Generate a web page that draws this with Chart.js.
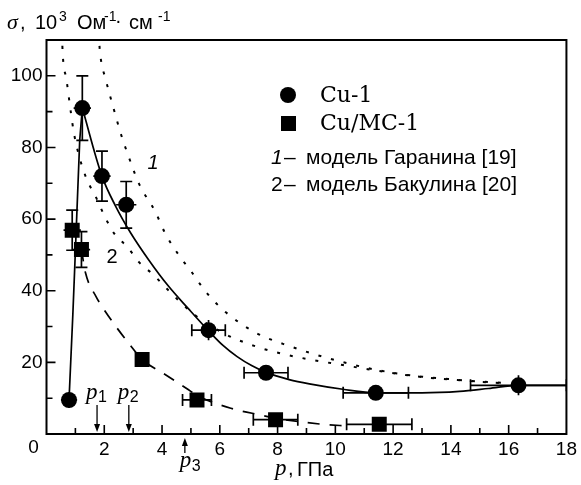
<!DOCTYPE html>
<html>
<head>
<meta charset="utf-8">
<script src="https://cdn.jsdelivr.net/npm/chart.js@4"></script>
<style>
  html, body { margin: 0; padding: 0; background: #fff; }
  canvas { display: block; }
</style>
</head>
<body>
<canvas id="sigmaChart" width="581" height="485"></canvas>
<script>
// measured points, Cu-1 (circles)
const cuX = [0.78, 1.24, 1.92, 2.76, 5.61, 7.6, 11.4, 16.34];
const cuY = [9.5, 91, 72, 64, 29, 17.1, 11.5, 13.6];
const cuXErr = [0.28, 0.3, 0.3, 0.35, 0.58, 0.76, 1.13, 1.66];
const cuYErr = [2.2, 9, 7, 6.5, 2.8, 1.5, 1.5, 2.8];

// measured points, Cu/MC-1 (squares)
const mcX = [0.89, 1.21, 3.31, 5.21, 7.93, 11.52];
const mcY = [56.9, 51.5, 20.8, 9.5, 4.0, 2.7];
const mcXErr = [0.3, 0.3, 0, 0.5, 0.77, 1.13];
const mcYErr = [5.6, 5, 0, 1.5, 1.5, 1.5];

// guide curves
const cuRise = [[0.78, 9.5], [0.91, 33], [0.97, 45], [1.15, 82], [1.24, 91]];
const cuFall = [[1.24, 91], [1.92, 72], [2.4, 63.5], [2.91, 56.2], [3.54, 48.6], [4.22, 41.3],
  [4.91, 35], [5.61, 28.8], [6.1, 24.8], [6.6, 21.6], [7.1, 19.1], [7.6, 17.2],
  [8.4, 15.2], [9.1, 14], [10.26, 12.5], [11.4, 11.5], [13, 11.5], [14.3, 11.9],
  [15.3, 12.7], [16.34, 13.6], [18, 13.6]];
const mcFit = [[1.21, 51.5], [1.35, 45], [1.72, 38.3], [1.93, 35.5], [2.44, 29.6],
  [2.85, 25.3], [3.31, 20.8], [4.05, 16.9], [4.85, 12.7], [5.25, 10.6], [6.38, 7.2],
  [7.4, 5.3], [7.93, 4.4], [9.45, 2.8], [10.5, 2.2]];
const model1 = [[1.8, 112], [1.86, 106], [2.06, 98.7], [2.34, 90.4], [2.57, 83.9],
  [2.85, 77.3], [3.2, 69.9], [3.77, 62], [4.11, 56], [4.62, 49.5], [5.02, 45.3],
  [5.31, 41.9], [5.73, 37.7], [6.22, 33.9], [6.71, 30.9], [7.19, 28.5], [7.7, 26.6],
  [8.21, 25.1], [9.18, 22.5], [10.15, 20.3], [11.12, 18.4], [12.14, 16.9], [13, 16],
  [14.14, 15.2], [15.1, 14.6], [16, 14.2]];
const model2 = [[0.53, 112], [0.57, 105], [0.69, 99], [0.84, 90], [0.95, 84], [1.15, 77],
  [1.4, 71], [1.72, 66], [2.0, 61], [2.34, 56], [2.8, 52.2], [3.2, 48], [3.71, 44.4],
  [4.16, 40.6], [5.14, 33.2], [6.16, 28], [7.19, 24.6], [8.15, 22.4], [9.12, 20.8],
  [10.15, 19.4], [11.12, 18.1], [12.14, 16.8], [13, 15.9], [14.14, 15.1], [15.1, 14.5],
  [16, 14.1]];

// axis ticks
const xTickLabels = [2, 4, 6, 8, 10, 12, 14, 16, 18];
const yTickLabels = [20, 40, 60, 80, 100];

// pressure marks p1, p2, p3
const pMarks = [1.75, 2.85, 4.79];
const pNames = ['1', '2', '3'];

const SANS = '"Liberation Sans", Arial, sans-serif';
const SERIF = '"Liberation Serif", "Times New Roman", serif';

function toXY(xs, ys) {
  return xs.map((x, i) => ({ x: x, y: ys[i] }));
}
function pairs(arr) {
  return arr.map(p => ({ x: p[0], y: p[1] }));
}

function txt(ctx, s, x, y, font, align, base) {
  ctx.font = font;
  ctx.textAlign = align || 'left';
  ctx.textBaseline = base || 'alphabetic';
  ctx.fillText(s, x, y);
}

function arrow(ctx, x, y1, y2) {
  // line from y1 to tip at y2
  const dir = y2 > y1 ? 1 : -1;
  ctx.beginPath();
  ctx.moveTo(x, y1);
  ctx.lineTo(x, y2 - dir * 6);
  ctx.stroke();
  ctx.beginPath();
  ctx.moveTo(x, y2);
  ctx.lineTo(x - 3, y2 - dir * 8);
  ctx.lineTo(x + 3, y2 - dir * 8);
  ctx.closePath();
  ctx.fill();
}

const errorBars = {
  id: 'errorBars',
  afterDatasetsDraw(chart) {
    const ctx = chart.ctx;
    const xs = chart.scales.x, ys = chart.scales.y;
    const a = chart.chartArea;
    ctx.save();
    ctx.beginPath();
    ctx.rect(a.left, a.top, a.right - a.left, a.bottom - a.top);
    ctx.clip();
    ctx.strokeStyle = '#000';
    ctx.lineWidth = 1.7;
    const sets = [[cuX, cuY, cuXErr, cuYErr], [mcX, mcY, mcXErr, mcYErr]];
    sets.forEach(s => {
      s[0].forEach((xv, i) => {
        const px = xs.getPixelForValue(xv);
        const py = ys.getPixelForValue(s[1][i]);
        if (s[2][i] > 0) {
          const l = xs.getPixelForValue(xv - s[2][i]);
          const r = xs.getPixelForValue(xv + s[2][i]);
          ctx.beginPath();
          ctx.moveTo(l, py); ctx.lineTo(r, py);
          if (r - px > 12) {
            ctx.moveTo(l, py - 6); ctx.lineTo(l, py + 6);
            ctx.moveTo(r, py - 6); ctx.lineTo(r, py + 6);
          }
          ctx.stroke();
        }
        if (s[3][i] > 0) {
          const t = ys.getPixelForValue(s[1][i] + s[3][i]);
          const b = ys.getPixelForValue(s[1][i] - s[3][i]);
          ctx.beginPath();
          ctx.moveTo(px, t); ctx.lineTo(px, b);
          if (py - t > 12) {
            ctx.moveTo(px - 6, t); ctx.lineTo(px + 6, t);
            ctx.moveTo(px - 6, b); ctx.lineTo(px + 6, b);
          }
          ctx.stroke();
        }
      });
    });
    ctx.restore();
  }
};

const decorations = {
  id: 'decorations',
  afterDraw(chart) {
    const ctx = chart.ctx;
    const a = chart.chartArea;
    const xs = chart.scales.x, ys = chart.scales.y;
    ctx.save();
    ctx.strokeStyle = '#000';
    ctx.fillStyle = '#000';

    // frame
    ctx.lineWidth = 2;
    ctx.strokeRect(a.left, a.top, a.right - a.left, a.bottom - a.top);

    // inward ticks
    ctx.lineWidth = 1.6;
    ctx.beginPath();
    for (let v = 1; v < 18; v++) {
      const x = xs.getPixelForValue(v);
      const len = v % 2 === 0 ? 9 : 6;
      ctx.moveTo(x, a.bottom); ctx.lineTo(x, a.bottom - len);
    }
    for (let v = 10; v < 110; v += 10) {
      const y = ys.getPixelForValue(v);
      const len = v % 20 === 0 ? 9 : 6;
      ctx.moveTo(a.left, y); ctx.lineTo(a.left + len, y);
    }
    ctx.stroke();

    // origin label
    txt(ctx, '0', a.left - 13, 448, '19px ' + SANS, 'center', 'middle');

    // y title: sigma, 10^3 Om^-1 cm^-1
    txt(ctx, 'σ', 7, 29, 'italic 22px ' + SERIF);
    txt(ctx, ',', 20, 29, '20px ' + SANS);
    txt(ctx, '10', 35, 29, '20px ' + SANS);
    txt(ctx, '3', 59, 21, '14px ' + SANS);
    txt(ctx, 'Ом', 77, 29, '20px ' + SANS);
    txt(ctx, '-1', 104, 21, '14px ' + SANS);
    txt(ctx, '·', 115, 27, '20px ' + SANS);
    txt(ctx, 'см', 129, 29, '20px ' + SANS);
    txt(ctx, '-1', 158, 21, '14px ' + SANS);

    // x title: p, GPa
    txt(ctx, 'p', 275, 475, 'italic 23px ' + SERIF);
    txt(ctx, ',', 288, 475, '20px ' + SANS);
    txt(ctx, 'ГПа', 297, 476, '20px ' + SANS);

    // legend
    ctx.beginPath();
    ctx.arc(288, 95, 8, 0, Math.PI * 2);
    ctx.fill();
    ctx.fillRect(281, 116, 15, 15);
    txt(ctx, 'Cu-1', 320, 96, '22px "DejaVu Serif", serif', 'left', 'middle');
    txt(ctx, 'Cu/MC-1', 320, 124, '22px "DejaVu Serif", serif', 'left', 'middle');
    txt(ctx, '1', 271, 164, 'italic 21px ' + SANS);
    txt(ctx, '–', 284, 164, '21px ' + SANS);
    txt(ctx, 'модель Гаранина [19]', 306, 164, '21px ' + SANS);
    txt(ctx, '2', 271, 191, '21px ' + SANS);
    txt(ctx, '–', 284, 191, '21px ' + SANS);
    txt(ctx, 'модель Бакулина [20]', 306, 191, '21px ' + SANS);

    // curve numbers
    txt(ctx, '1', 153, 163, 'italic 20px ' + SANS, 'center', 'middle');
    txt(ctx, '2', 112, 257, '20px ' + SANS, 'center', 'middle');

    // pressure marks
    ctx.lineWidth = 1.3;
    pMarks.forEach((v, i) => {
      const x = xs.getPixelForValue(v);
      if (i < 2) {
        arrow(ctx, x, 405, 432);
        txt(ctx, 'p', x - 11, 399, 'italic 23px ' + SERIF);
        txt(ctx, pNames[i], x + 1, 402, '16px ' + SANS);
      } else {
        arrow(ctx, x, 453, 438);
        txt(ctx, 'p', x - 5, 467, 'italic 23px ' + SERIF);
        txt(ctx, pNames[i], x + 7, 471, '16px ' + SANS);
      }
    });
    ctx.restore();
  }
};

const lineStyle = {
  showLine: true,
  pointRadius: 0,
  borderColor: '#000',
  backgroundColor: '#000',
  fill: false
};

new Chart(document.getElementById('sigmaChart').getContext('2d'), {
  type: 'scatter',
  data: {
    datasets: [
      {
        label: 'Cu-1',
        data: toXY(cuX, cuY),
        pointStyle: 'circle',
        pointRadius: 8,
        backgroundColor: '#000',
        borderWidth: 0
      },
      {
        label: 'Cu/MC-1',
        data: toXY(mcX, mcY),
        pointStyle: 'rect',
        pointRadius: 10.6,
        backgroundColor: '#000',
        borderWidth: 0
      },
      Object.assign({ label: 'Cu-1 rise', data: pairs(cuRise), borderWidth: 1.7, tension: 0 }, lineStyle),
      Object.assign({ label: 'Cu-1 fit', data: pairs(cuFall), borderWidth: 1.7, cubicInterpolationMode: 'monotone' }, lineStyle),
      Object.assign({ label: 'Cu/MC-1 fit', data: pairs(mcFit), borderWidth: 1.7, borderDash: [12, 10], cubicInterpolationMode: 'monotone' }, lineStyle),
      Object.assign({ label: '1', data: pairs(model1), borderWidth: 2, borderDash: [3, 10], cubicInterpolationMode: 'monotone' }, lineStyle),
      Object.assign({ label: '2', data: pairs(model2), borderWidth: 2, borderDash: [3, 10], cubicInterpolationMode: 'monotone' }, lineStyle)
    ]
  },
  options: {
    responsive: false,
    animation: false,
    devicePixelRatio: 1,
    layout: { padding: { top: 40, right: 8, left: 0, bottom: 0 } },
    plugins: {
      legend: { display: false },
      tooltip: { enabled: false }
    },
    scales: {
      x: {
        type: 'linear',
        min: 0,
        max: 18,
        grid: { display: false, drawTicks: false },
        border: { display: false },
        ticks: {
          stepSize: 1,
          padding: 4,
          color: '#000',
          font: { family: SANS, size: 19 },
          maxRotation: 0,
          autoSkip: false,
          callback: v => xTickLabels.includes(v) ? String(v) : ''
        },
        afterFit: s => { s.height = 51; }
      },
      y: {
        type: 'linear',
        min: 0,
        max: 110,
        grid: { display: false, drawTicks: false },
        border: { display: false },
        ticks: {
          stepSize: 10,
          padding: 4,
          color: '#000',
          font: { family: SANS, size: 19 },
          autoSkip: false,
          callback: v => yTickLabels.includes(v) ? String(v) : ''
        },
        afterFit: s => { s.width = 46.5; }
      }
    }
  },
  plugins: [errorBars, decorations]
});
</script>
</body>
</html>
